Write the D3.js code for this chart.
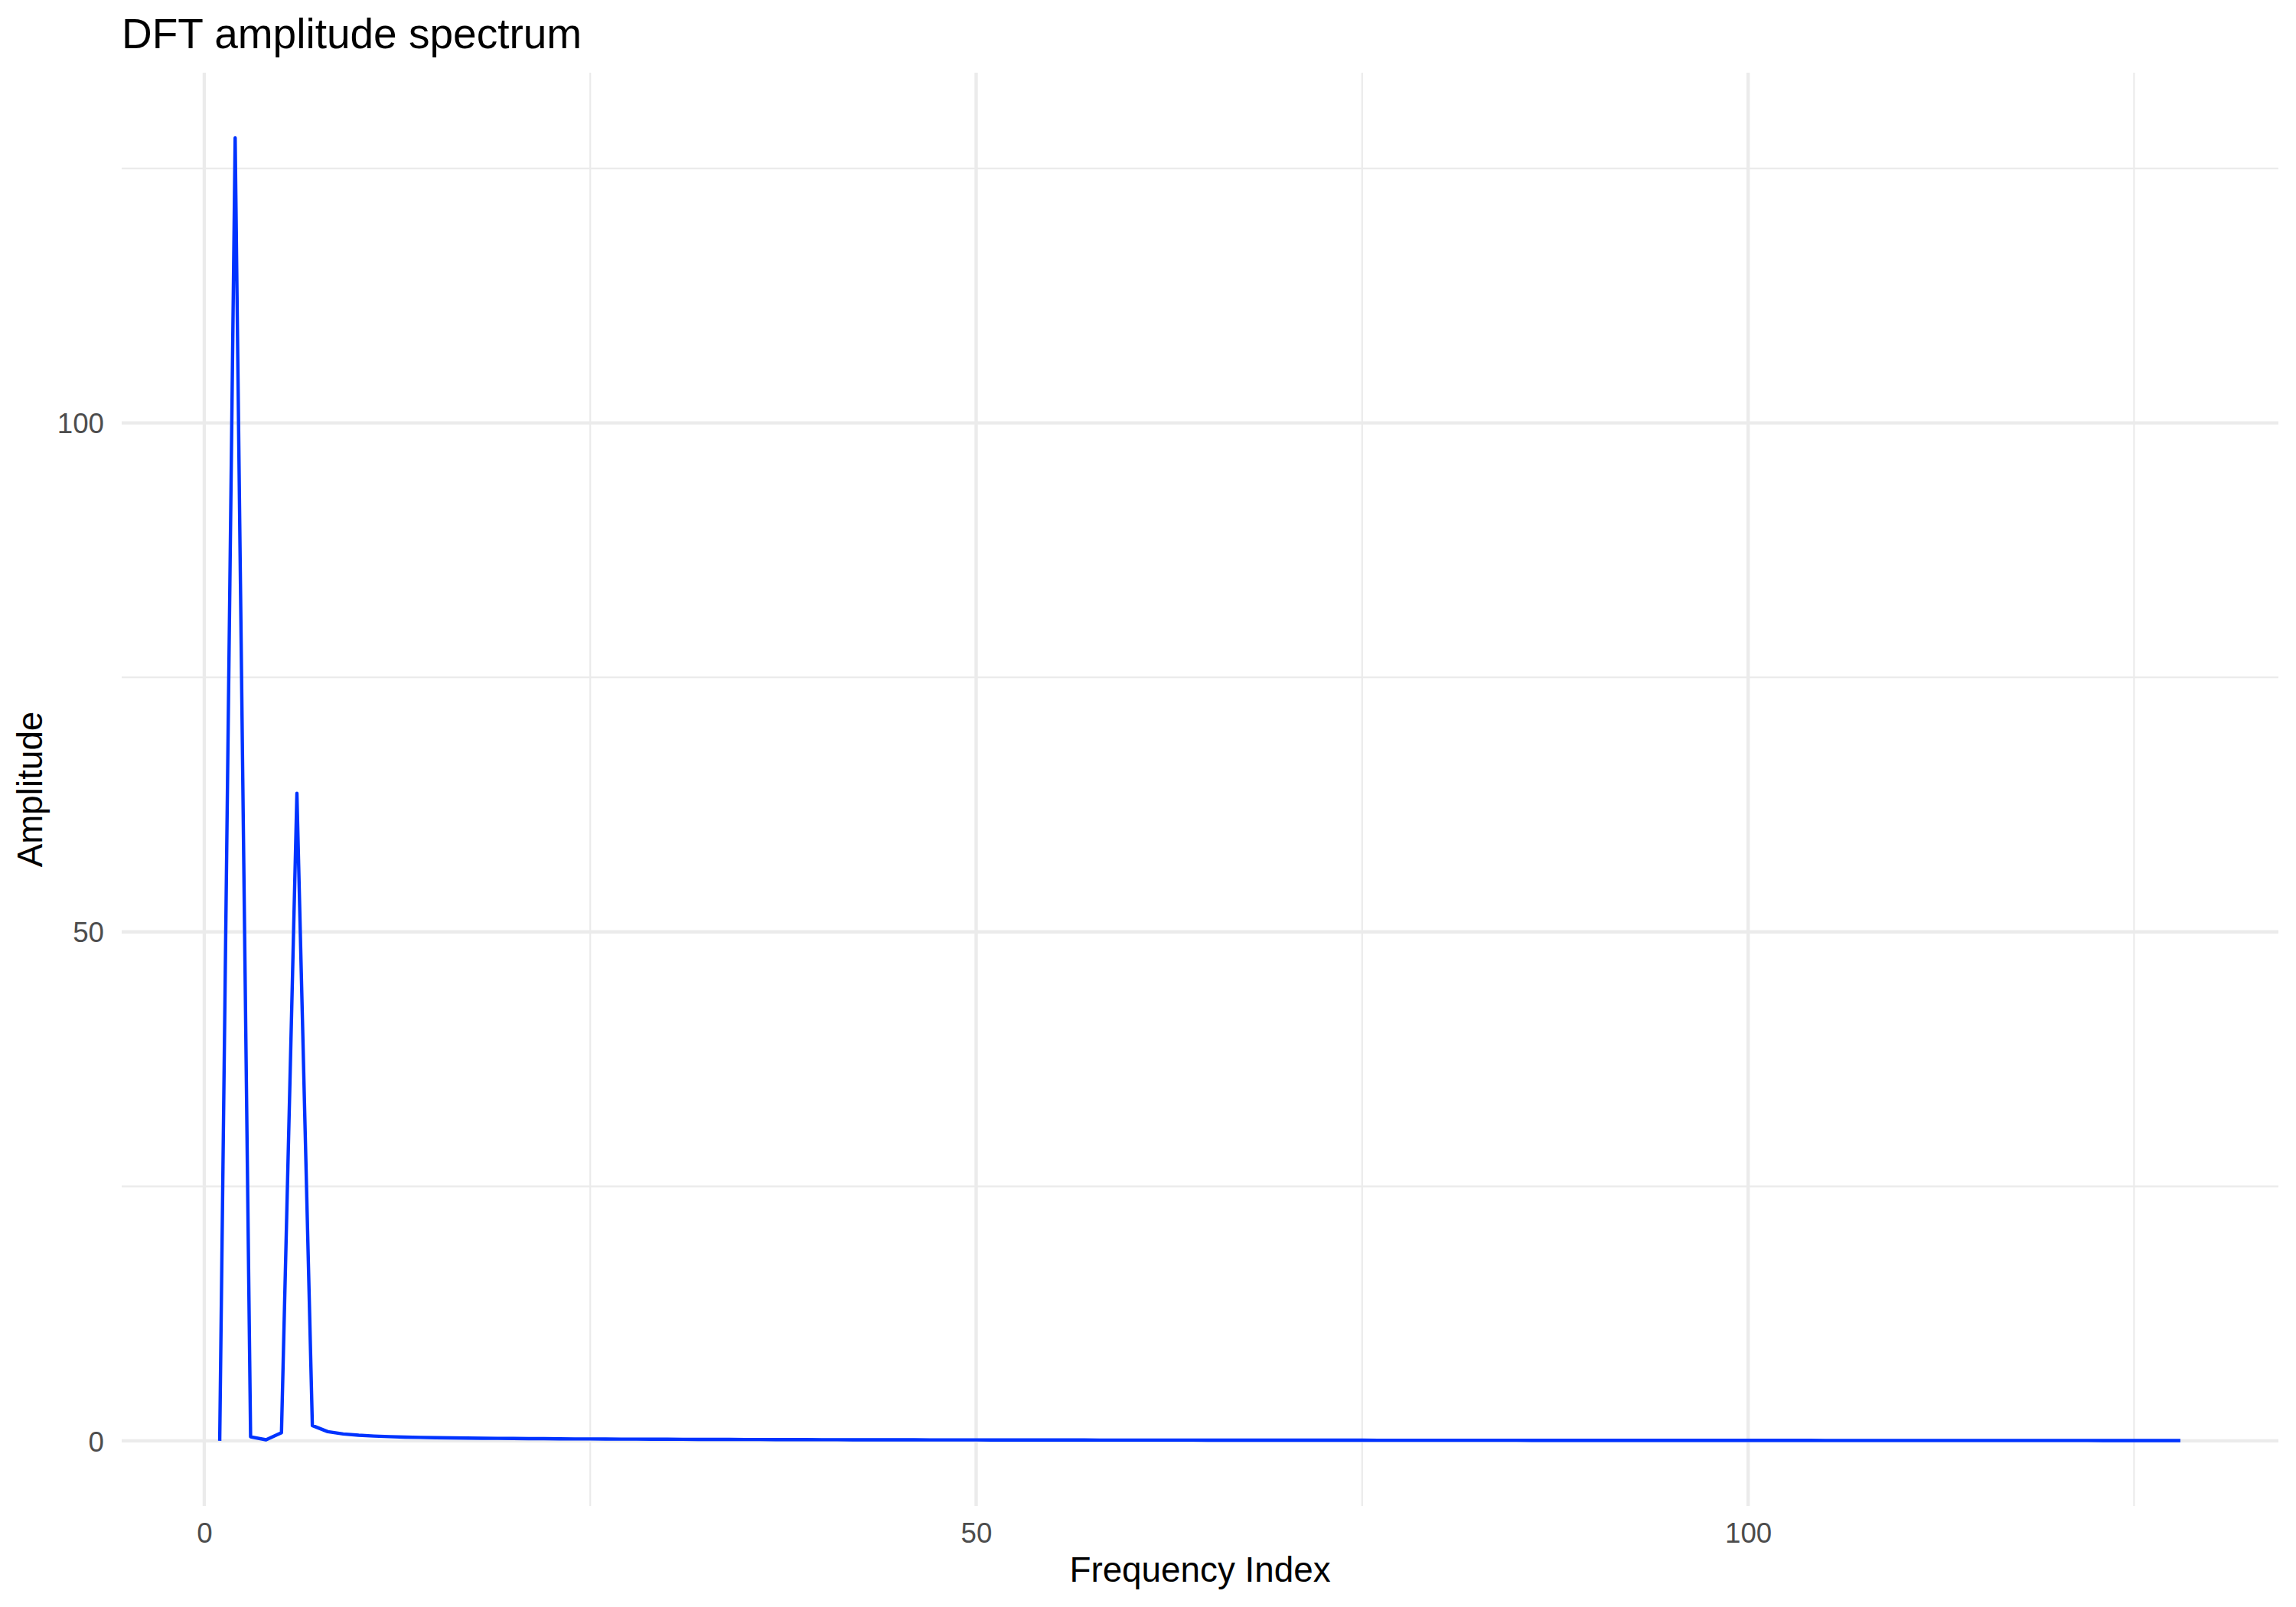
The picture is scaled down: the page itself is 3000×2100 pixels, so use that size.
<!DOCTYPE html>
<html>
<head>
<meta charset="utf-8">
<script src="https://cdn.jsdelivr.net/npm/d3@7"></script>
<style>
  html, body { margin: 0; padding: 0; background: #ffffff; }
  svg { display: block; font-family: "Liberation Sans", Arial, Helvetica, sans-serif; }
</style>
</head>
<body>
<script>
// ---- data ----
const amplitude = [
  0, 128, 0.4, 0.1, 0.8, 63.6, 1.5, 0.9, 0.68, 0.55,
  0.47, 0.41, 0.37, 0.34, 0.31, 0.29, 0.27, 0.25, 0.24, 0.23,
  0.22, 0.21, 0.2, 0.19, 0.185, 0.18, 0.17, 0.165, 0.16, 0.155,
  0.15, 0.145, 0.14, 0.135, 0.13, 0.128, 0.125, 0.12, 0.118, 0.115,
  0.11, 0.108, 0.105, 0.103, 0.1, 0.098, 0.096, 0.094, 0.092, 0.09,
  0.088, 0.086, 0.085, 0.083, 0.082, 0.08, 0.079, 0.078, 0.076, 0.075,
  0.074, 0.073, 0.072, 0.071, 0.07, 0.069, 0.068, 0.067, 0.066, 0.065,
  0.064, 0.063, 0.062, 0.061, 0.06, 0.059, 0.058, 0.057, 0.056, 0.055,
  0.055, 0.054, 0.053, 0.052, 0.052, 0.051, 0.05, 0.05, 0.049, 0.048,
  0.048, 0.047, 0.047, 0.046, 0.045, 0.045, 0.044, 0.044, 0.043, 0.043,
  0.042, 0.042, 0.041, 0.041, 0.04, 0.04, 0.04, 0.039, 0.039, 0.038,
  0.038, 0.037, 0.037, 0.037, 0.036, 0.036, 0.035, 0.035, 0.035, 0.034,
  0.034, 0.034, 0.033, 0.033, 0.033, 0.032, 0.032, 0.032
];
const frequencyIndex = amplitude.map((_, i) => i + 1);
const xMajorTicks = [0, 50, 100];
const xMinorTicks = [25, 75, 125];
const yMajorTicks = [0, 50, 100];
const yMinorTicks = [25, 75, 125];
const titleText = "DFT amplitude spectrum";
const xTitle = "Frequency Index";
const yTitle = "Amplitude";

// ---- layout ----
const W = 3000, H = 2100;
const panel = { left: 159, right: 2977, top: 95, bottom: 1968 };

const svg = d3.select("body").append("svg")
  .attr("width", W).attr("height", H)
  .attr("viewBox", `0 0 ${W} ${H}`);
svg.append("rect").attr("width", W).attr("height", H).attr("fill", "#ffffff");

// ggplot-style 5% expansion
const xMin = d3.min(frequencyIndex), xMax = d3.max(frequencyIndex);
const xPad = (xMax - xMin) * 0.05;
const yMin = d3.min(amplitude), yMax = d3.max(amplitude);
const yPad = (yMax - yMin) * 0.05;

const x = d3.scaleLinear().domain([xMin - xPad, xMax + xPad]).range([panel.left, panel.right]);
const y = d3.scaleLinear().domain([yMin - yPad, yMax + yPad]).range([panel.bottom, panel.top]);

const grid = svg.append("g");
const gridColor = "#ebebeb";
// minor grid
grid.selectAll(".xminor").data(xMinorTicks).join("line")
  .attr("x1", d => x(d)).attr("x2", d => x(d))
  .attr("y1", panel.top).attr("y2", panel.bottom)
  .attr("stroke", gridColor).attr("stroke-width", 2.2);
grid.selectAll(".yminor").data(yMinorTicks).join("line")
  .attr("y1", d => y(d)).attr("y2", d => y(d))
  .attr("x1", panel.left).attr("x2", panel.right)
  .attr("stroke", gridColor).attr("stroke-width", 2.2);
// major grid
grid.selectAll(".xmajor").data(xMajorTicks).join("line")
  .attr("x1", d => x(d)).attr("x2", d => x(d))
  .attr("y1", panel.top).attr("y2", panel.bottom)
  .attr("stroke", gridColor).attr("stroke-width", 4.4);
grid.selectAll(".ymajor").data(yMajorTicks).join("line")
  .attr("y1", d => y(d)).attr("y2", d => y(d))
  .attr("x1", panel.left).attr("x2", panel.right)
  .attr("stroke", gridColor).attr("stroke-width", 4.4);

// line
const line = d3.line()
  .x((d, i) => x(frequencyIndex[i]))
  .y(d => y(d));
svg.append("path")
  .datum(amplitude)
  .attr("d", line)
  .attr("fill", "none")
  .attr("stroke", "#0033ff")
  .attr("stroke-width", 4.4)
  .attr("stroke-linejoin", "round")
  .attr("stroke-linecap", "butt");

// axes (labels only, like theme_minimal)
const xAxis = svg.append("g")
  .attr("transform", `translate(0, ${panel.bottom})`)
  .call(d3.axisBottom(x).tickValues(xMajorTicks).tickSize(0).tickPadding(48).tickFormat(d3.format("d")));
xAxis.select(".domain").remove();
xAxis.selectAll("text")
  .attr("fill", "#4d4d4d")
  .attr("font-size", 36.7)
  .attr("font-family", "Liberation Sans, Arial, sans-serif")
  .attr("dy", "0");

const yAxis = svg.append("g")
  .attr("transform", `translate(${panel.left}, 0)`)
  .call(d3.axisLeft(y).tickValues(yMajorTicks).tickSize(0).tickPadding(23).tickFormat(d3.format("d")));
yAxis.select(".domain").remove();
yAxis.selectAll("text")
  .attr("fill", "#4d4d4d")
  .attr("font-size", 36.7)
  .attr("font-family", "Liberation Sans, Arial, sans-serif")
  .attr("dy", "0.36em");

// titles
svg.append("text")
  .attr("x", panel.left).attr("y", 63)
  .attr("font-size", 55)
  .attr("fill", "#000000")
  .text(titleText);

svg.append("text")
  .attr("x", (panel.left + panel.right) / 2).attr("y", 2067)
  .attr("text-anchor", "middle")
  .attr("font-size", 45.8)
  .attr("fill", "#000000")
  .text(xTitle);

svg.append("text")
  .attr("transform", `translate(55, ${(panel.top + panel.bottom) / 2}) rotate(-90)`)
  .attr("text-anchor", "middle")
  .attr("font-size", 45.8)
  .attr("fill", "#000000")
  .text(yTitle);
</script>
</body>
</html>
